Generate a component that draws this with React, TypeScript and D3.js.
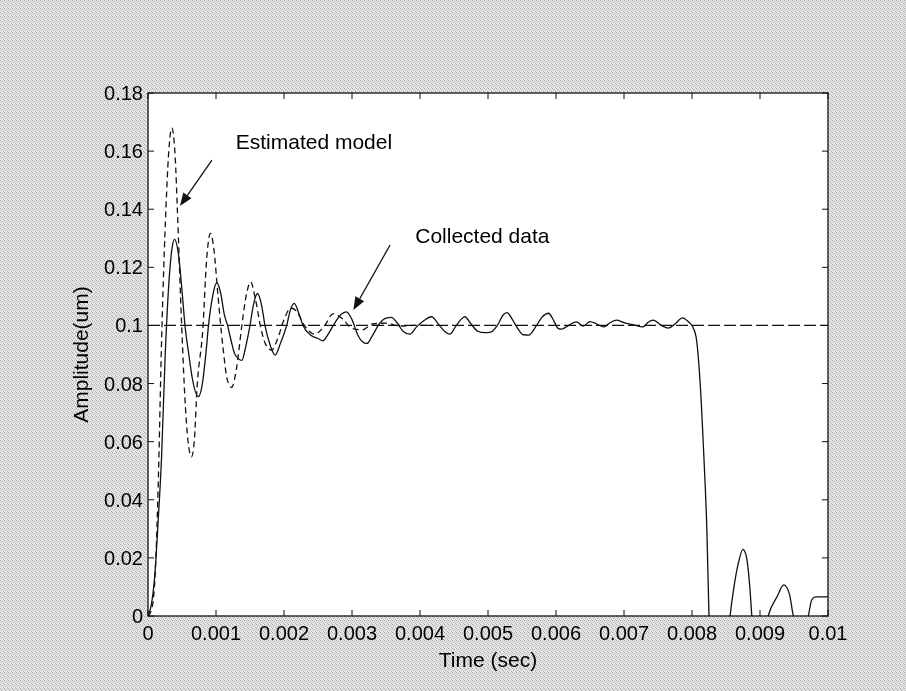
import React from "react";
import * as d3 from "d3";

// time in milliseconds, amplitude in um
const collectedT = [0,0.05,0.1,0.15,0.2,0.25,0.3,0.35,0.39,0.45,0.5,0.544,0.6,0.65,0.74,0.8,0.85,0.89,0.95,1.01,1.07,1.12,1.17,1.22,1.28,1.38,1.44,1.5,1.55,1.61,1.67,1.72,1.8,1.87,1.95,2.04,2.09,2.15,2.22,2.28,2.4,2.5,2.57,2.65,2.75,2.85,2.92,3.0,3.08,3.15,3.22,3.3,3.4,3.5,3.58,3.66,3.75,3.85,3.95,4.05,4.17,4.27,4.36,4.44,4.52,4.6,4.66,4.75,4.85,4.95,5.05,5.15,5.22,5.28,5.36,5.45,5.52,5.6,5.7,5.8,5.89,5.97,6.03,6.08,6.15,6.3,6.4,6.5,6.6,6.7,6.8,6.89,7.0,7.14,7.28,7.35,7.43,7.55,7.65,7.75,7.86,7.95,8.0,8.06,8.12,8.17,8.22,8.25,8.3,8.4,8.5,8.56,8.61,8.68,8.75,8.8,8.85,8.88,8.95,9.05,9.12,9.25,9.35,9.43,9.49,9.6,9.71,9.76,9.81,10];
const collectedY = [0,0.004,0.014,0.033,0.055,0.088,0.112,0.126,0.1296,0.124,0.112,0.1,0.09,0.082,0.0755,0.08,0.09,0.1,0.11,0.1147,0.111,0.104,0.1,0.095,0.09,0.088,0.093,0.1,0.107,0.111,0.107,0.1,0.093,0.0898,0.094,0.1,0.105,0.1076,0.104,0.1,0.0965,0.0955,0.0947,0.097,0.101,0.104,0.1047,0.102,0.097,0.0945,0.0938,0.0965,0.1005,0.1025,0.1028,0.101,0.098,0.097,0.0995,0.1015,0.103,0.1005,0.098,0.097,0.0995,0.102,0.103,0.1005,0.098,0.0975,0.0978,0.1005,0.1035,0.1044,0.102,0.0985,0.0968,0.0967,0.0995,0.103,0.1042,0.1015,0.099,0.0987,0.0995,0.1012,0.0998,0.1013,0.1005,0.0995,0.101,0.1018,0.101,0.1002,0.0995,0.101,0.1018,0.1,0.0991,0.1005,0.1026,0.1012,0.1,0.0961,0.0801,0.0571,0.0285,0,-0.02,-0.03,-0.015,0,0.0089,0.018,0.0229,0.0204,0.01,0,-0.01,-0.008,0,0.0066,0.0107,0.0078,0,-0.006,0,0.0055,0.0066,0.0066];

const modelT = [0,0.05,0.1,0.15,0.2,0.265,0.3,0.35,0.4,0.43,0.495,0.55,0.6,0.64,0.68,0.72,0.81,0.86,0.92,0.97,1.03,1.1,1.17,1.23,1.3,1.38,1.45,1.51,1.58,1.66,1.74,1.82,1.9,2.0,2.1,2.18,2.3,2.45,2.6,2.72,2.85,3.0,3.15,3.3,3.5,3.7,3.9,4.2];
const modelY = [0,0.002,0.012,0.045,0.095,0.141,0.158,0.168,0.158,0.141,0.1,0.072,0.058,0.0548,0.06,0.078,0.1,0.122,0.1317,0.126,0.11,0.093,0.081,0.0787,0.085,0.1,0.111,0.115,0.109,0.099,0.093,0.0915,0.095,0.102,0.106,0.105,0.1,0.097,0.1,0.104,0.1025,0.099,0.0985,0.1005,0.1008,0.0998,0.1,0.1];

const referenceT = [0, 10];
const referenceY = [0.1, 0.1];

const xTicks = [0,1,2,3,4,5,6,7,8,9,10];
const xTickLabels = ["0","0.001","0.002","0.003","0.004","0.005","0.006","0.007","0.008","0.009","0.01"];
const yTicks = [0,0.02,0.04,0.06,0.08,0.1,0.12,0.14,0.16,0.18];
const yTickLabels = ["0","0.02","0.04","0.06","0.08","0.1","0.12","0.14","0.16","0.18"];

const annotationLabels = ["Estimated model", "Collected data"];
const annotationTextT = [1.29, 3.93];
const annotationTextY = [0.1607, 0.1284];
const arrowFromT = [0.94, 3.56];
const arrowFromY = [0.1569, 0.1277];
const arrowToT = [0.47, 3.02];
const arrowToY = [0.1411, 0.1053];

const FONT = "'Liberation Sans', Arial, Helvetica, sans-serif";

export default function App() {
  const W = 906, H = 691;
  const L = 148, R = 828, T = 93, B = 616;
  const x = d3.scaleLinear().domain([0, 10]).range([L, R]);
  const y = d3.scaleLinear().domain([0, 0.18]).range([B, T]);
  const line = d3.line<[number, number]>().x(d => x(d[0])).y(d => y(d[1]));
  const curve = d3.line<[number, number]>().x(d => x(d[0])).y(d => y(d[1])).curve(d3.curveMonotoneX);

  const collected = collectedT.map((t, i) => [t, collectedY[i]] as [number, number]);
  const model = modelT.map((t, i) => [t, modelY[i]] as [number, number]);
  const reference = referenceT.map((t, i) => [t, referenceY[i]] as [number, number]);

  const tick = 6;

  return (
    <svg width={W} height={H} style={{ position: "fixed", left: 0, top: 0, display: "block" }}>
      <defs>
        <pattern id="stipple" width="4" height="4" patternUnits="userSpaceOnUse">
          <rect width="4" height="4" fill="#e4e4e4" />
          <rect x="0" y="0" width="1" height="1" fill="#a4a4a4" />
          <rect x="2" y="1" width="1" height="1" fill="#b4b4b4" />
          <rect x="1" y="2" width="1" height="1" fill="#bababa" />
          <rect x="3" y="3" width="1" height="1" fill="#acacac" />
          <rect x="2" y="3" width="1" height="1" fill="#f4f4f4" />
        </pattern>
        <clipPath id="plotClip">
          <rect x={L} y={T} width={R - L} height={B - T} />
        </clipPath>
      </defs>
      <rect width={W} height={H} fill="url(#stipple)" />
      <rect x={L} y={T} width={R - L} height={B - T} fill="#ffffff" />

      <g clipPath="url(#plotClip)" fill="none" stroke="#111" strokeWidth={1.3}>
        <path d={line(reference) || ""} strokeDasharray="12,4" strokeWidth={1.2} />
        <path d={curve(model) || ""} strokeDasharray="6,4" />
        <path d={curve(collected) || ""} />
      </g>

      <g stroke="#111" strokeWidth={1}>
        {xTicks.map((t, i) => (
          <g key={"xt" + i}>
            <line x1={x(t)} x2={x(t)} y1={B} y2={B - tick} />
            <line x1={x(t)} x2={x(t)} y1={T} y2={T + tick} />
          </g>
        ))}
        {yTicks.map((v, i) => (
          <g key={"yt" + i}>
            <line x1={L} x2={L + tick} y1={y(v)} y2={y(v)} />
            <line x1={R} x2={R - tick} y1={y(v)} y2={y(v)} />
          </g>
        ))}
      </g>
      <rect x={L} y={T} width={R - L} height={B - T} fill="none" stroke="#111" strokeWidth={1.3} />

      <g fontFamily={FONT} fontSize={20} fill="#000">
        {xTicks.map((t, i) => (
          <text key={"xl" + i} x={x(t)} y={B + 24} textAnchor="middle">{xTickLabels[i]}</text>
        ))}
        {yTicks.map((v, i) => (
          <text key={"yl" + i} x={L - 5} y={y(v) + 7} textAnchor="end">{yTickLabels[i]}</text>
        ))}
      </g>

      <text x={(L + R) / 2} y={667} textAnchor="middle" fontFamily={FONT} fontSize={21}>Time (sec)</text>
      <text transform={`translate(88,${(T + B) / 2}) rotate(-90)`} textAnchor="middle" fontFamily={FONT} fontSize={21}>Amplitude(um)</text>

      {annotationLabels.map((lab, i) => {
        const x1 = x(arrowFromT[i]), y1 = y(arrowFromY[i]);
        const x2 = x(arrowToT[i]), y2 = y(arrowToY[i]);
        const ang = Math.atan2(y2 - y1, x2 - x1);
        const hl = 13, hw = 5;
        const bx = x2 - hl * Math.cos(ang), by = y2 - hl * Math.sin(ang);
        const px = -Math.sin(ang) * hw, py = Math.cos(ang) * hw;
        return (
          <g key={"ann" + i}>
            <text x={x(annotationTextT[i])} y={y(annotationTextY[i])} fontFamily={FONT} fontSize={21}>{lab}</text>
            <line x1={x1} y1={y1} x2={bx} y2={by} stroke="#111" strokeWidth={1.3} />
            <polygon points={`${x2},${y2} ${bx + px},${by + py} ${bx - px},${by - py}`} fill="#111" />
          </g>
        );
      })}
    </svg>
  );
}
